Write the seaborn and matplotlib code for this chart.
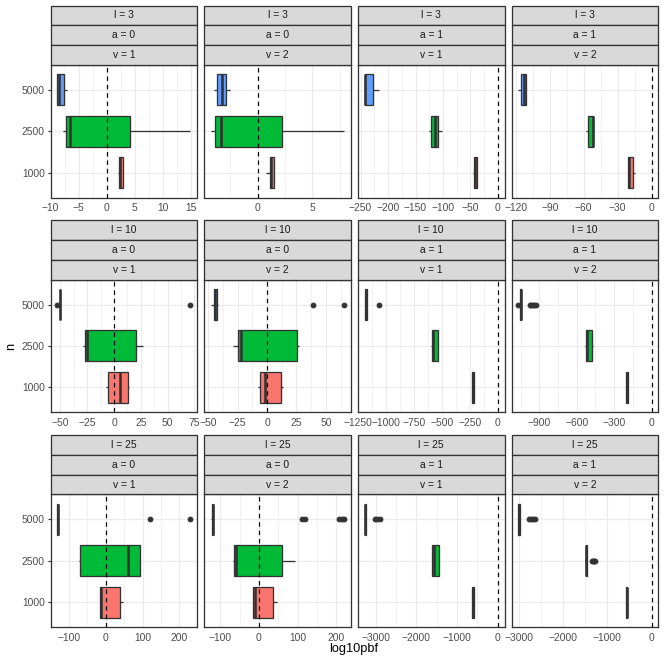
import numpy as np
import pandas as pd
import matplotlib
matplotlib.use("Agg")
import matplotlib.pyplot as plt
from matplotlib.patches import Rectangle
import seaborn as sns

# ---------------- data (log10pbf samples per facet and n) ----------------
n_order = ["5000", "2500", "1000"]
n_colors = {"1000": "#F8766D", "2500": "#00BA38", "5000": "#619CFF"}

l_levels = [3, 10, 25]
a_levels = [0, 0, 1, 1]
v_levels = [1, 2, 1, 2]

# l = 3
l3_a0_v1 = {
    "1000": [2.0, 2.15, 2.25, 2.35, 2.45, 2.65, 2.85, 2.85, 2.85],
    "2500": [-7.75, -7.45, -7.2, -6.9, -6.6, -1.5, 4.1, 9.0, 14.9],
    "5000": [-8.8, -8.78, -8.76, -8.6, -8.45, -8.0, -7.63, -7.3, -7.0],
}
l3_a0_v2 = {
    "1000": [0.73, 0.95, 1.09, 1.15, 1.2, 1.35, 1.52, 1.52, 1.52],
    "2500": [-4.27, -4.05, -3.88, -3.6, -3.39, -0.5, 2.24, 5.0, 7.9],
    "5000": [-3.94, -3.8, -3.67, -3.45, -3.27, -3.1, -2.9, -2.7, -2.55],
}
l3_a1_v1 = {
    "1000": [-46, -45, -44, -42.5, -41, -39.5, -38, -38, -38],
    "2500": [-125.6, -123.5, -121.4, -117.5, -114, -111, -108.2, -105, -102],
    "5000": [-242.8, -242.8, -242.8, -242, -241.5, -235, -227.8, -222, -217],
}
l3_a1_v2 = {
    "1000": [-20.4, -20.4, -20.4, -20.1, -19.8, -18.3, -16.8, -15.6, -14.4],
    "2500": [-57.8, -56.8, -55.8, -54.2, -52.0, -51.8, -51.6, -51.6, -51.6],
    "5000": [-117.9, -116.5, -115.3, -113.8, -112.5, -111.8, -111.2, -111.2, -111.2],
}
# l = 10
l10_a0_v1 = {
    "1000": [-7.1, -6.3, -5.6, 0.0, 5.6, 9.0, 12.7, 13.5, 14.3],
    "2500": [-28.8, -28.0, -27.3, -26.4, -25.4, -3.0, 20.5, 24.0, 27.0],
    "5000": [-53.1, -50.9, -50.9, -50.9, -50.7, -50.6, -50.5, -50.4, -50.3,
             -50.1, -50.1, -50.1, 71.3],
}
l10_a0_v2 = {
    "1000": [-7.6, -6.5, -5.6, -3.8, -2.0, 5.0, 11.9, 12.8, 13.6],
    "2500": [-29.1, -27.0, -24.9, -23.5, -22.0, 2.0, 25.4, 26.1, 26.8],
    "5000": [-47.7, -46.5, -45.8, -45.2, -44.8, -44.4, -44.0, -43.6, -43.2,
             -42.9, -41.8, 39.3, 65.5],
}
l10_a1_v1 = {
    "1000": [-232, -232, -232, -227, -222, -216, -211, -211, -211],
    "2500": [-601, -597, -592, -585, -579, -560, -539, -537, -536],
    "5000": [-1192, -1190, -1189, -1187.5, -1184, -1181, -1178, -1175, -1171,
             -1166.7, -1166.7, -1166.7, -1059.5],
}
l10_a1_v2 = {
    "1000": [-208, -208, -208, -204, -200, -195, -189, -189, -189],
    "2500": [-537, -531, -526, -520, -514, -498, -481, -476, -470],
    "5000": [-1068, -1055, -1054, -1053, -1052.5, -1052, -1050, -1049, -1048,
             -1047.5, -1047, -1046.5, -1046, -1045, -1044, -1043,
             -975, -962, -950, -938, -927],
}
# l = 25
l25_a0_v1 = {
    "1000": [-16.3, -16.3, -16.3, -14.5, -12.7, 12.0, 38.1, 42.0, 46.2],
    "2500": [-72.5, -70.5, -68.9, -5.0, 59.8, 78.0, 94.3, 94.3, 94.3],
    "5000": [-131.5, -131.5, -131.5, -131.5, -131.0, -130.5, -130.0, -129.5,
             -129.0, -128.5, -128.5, 121.5, 230.0],
}
l25_a0_v2 = {
    "1000": [-16.5, -15.5, -14.7, -13.0, -11.3, 12.0, 36.4, 41.0, 45.9],
    "2500": [-68.4, -67.0, -65.8, -63.5, -60.6, 0.0, 58.9, 75.0, 91.8],
    "5000": [-124.3, -123.8, -123.3, -122.8, -122.3, -121.6, -121.0,
             -120.8, -120.6, -120.3, -120.0, -119.8, -119.5,
             -119.3, -119.1, -118.9, -118.7, -118.6, -118.5, -115.2,
             110.0, 118.0, 208.0, 214.0, 220.0],
}
l25_a1_v1 = {
    "1000": [-628, -628, -628, -619, -610, -599, -588, -588, -588],
    "2500": [-1613, -1613, -1613, -1590, -1560, -1500, -1450, -1450, -1450],
    "5000": [-3272, -3272, -3272, -3272, -3268, -3264, -3260, -3256, -3252,
             -3248, -3020, -2960, -2900],
}
l25_a1_v2 = {
    "1000": [-575, -575, -575, -568, -560, -552, -545, -545, -545],
    "2500": [-1485, -1485, -1485, -1485, -1485, -1482, -1480, -1477, -1475,
             -1473, -1470, -1467, -1465, -1360, -1335, -1310, -1285],
    "5000": [-3020, -3020, -3020, -3020, -3020, -3016, -3012, -3008, -3005,
             -3001, -2997, -2993, -2990, -2770, -2730, -2690, -2650],
}

panels = [
    [l3_a0_v1, l3_a0_v2, l3_a1_v1, l3_a1_v2],
    [l10_a0_v1, l10_a0_v2, l10_a1_v1, l10_a1_v2],
    [l25_a0_v1, l25_a0_v2, l25_a1_v1, l25_a1_v2],
]

x_breaks = [
    [[-10, -5, 0, 5, 10, 15], [0, 5], [-250, -200, -150, -100, -50, 0], [-120, -90, -60, -30, 0]],
    [[-50, -25, 0, 25, 50, 75], [-50, -25, 0, 25, 50], [-1250, -1000, -750, -500, -250, 0], [-900, -600, -300, 0]],
    [[-100, 0, 100, 200], [-100, 0, 100, 200], [-3000, -2000, -1000, 0], [-3000, -2000, -1000, 0]],
]

# ---------------- styling ----------------
sns.set_theme(style="white")
plt.rcParams["font.family"] = ["Liberation Sans", "DejaVu Sans"]
plt.rcParams["axes.unicode_minus"] = True

W = H = 664
DPI = 72
LW = 1.3
TICK_FS = 10.2
TITLE_FS = 12.8
fig = plt.figure(figsize=(W / DPI, H / DPI), dpi=DPI)
fig.patch.set_facecolor("white")

col_x = [50.5 + i * 153.7 for i in range(4)]
pw = 146.6
row_top = [5.5 + r * 214.75 for r in range(3)]
strip_h = 19.8
ph = 132.6


def frac_rect(x, y_top, w, h):
    return [x / W, 1 - (y_top + h) / H, w / W, h / H]


def fmt(v):
    s = f"{v:g}"
    return s.replace("-", "\u2212")


for r in range(3):
    for c in range(4):
        data = panels[r][c]
        rows = []
        for n in n_order:
            for val in data[n]:
                rows.append((n, val))
        df = pd.DataFrame(rows, columns=["n", "log10pbf"])

        ax = fig.add_axes(frac_rect(col_x[c], row_top[r] + 3 * strip_h, pw, ph))
        ax.set_facecolor("white")

        sns.boxplot(
            data=df, x="log10pbf", y="n", hue="n", order=n_order, hue_order=n_order,
            palette=n_colors, dodge=False, legend=False, orient="h", ax=ax,
            width=0.75, saturation=1, linewidth=LW, linecolor="#333333",
            whis=1.5, showcaps=False, fliersize=4.8,
            flierprops=dict(marker="o", markerfacecolor="#333333",
                            markeredgecolor="#333333"),
            medianprops=dict(linewidth=2.6, color="#333333"),
        )
        ax.axvline(0, color="black", linewidth=1.2, linestyle=(0, (3.7, 3.3)), zorder=6)

        vals = df["log10pbf"].to_numpy()
        lo = min(vals.min(), 0.0)
        hi = max(vals.max(), 0.0)
        pad = 0.05 * (hi - lo)
        ax.set_xlim(lo - pad, hi + pad)
        ax.set_ylim(2.6, -0.6)

        major = x_breaks[r][c]
        step = major[1] - major[0]
        minors = [m - step / 2 for m in major] + [major[-1] + step / 2]
        minors = [m for m in minors if lo - pad <= m <= hi + pad]
        ax.set_xticks(major)
        ax.set_xticklabels([fmt(v) for v in major])
        ax.set_xticks(minors, minor=True)
        ax.set_yticks([0, 1, 2])
        ax.set_yticklabels(n_order)

        ax.set_axisbelow(True)
        ax.grid(which="major", axis="both", color="#EBEBEB", linewidth=1.2)
        ax.grid(which="minor", axis="x", color="#EBEBEB", linewidth=0.65)

        ax.tick_params(axis="x", which="major", length=3.2, width=1.2, color="#333333",
                       labelsize=TICK_FS, labelcolor="#4D4D4D", pad=2.4)
        ax.tick_params(axis="x", which="minor", length=0)
        if c == 0:
            ax.tick_params(axis="y", which="major", length=3.2, width=1.2, color="#333333",
                           labelsize=TICK_FS, labelcolor="#4D4D4D", pad=2.4, left=True)
        else:
            ax.tick_params(axis="y", left=False, labelleft=False)
        ax.set_xlabel("")
        ax.set_ylabel("")
        for sp in ax.spines.values():
            sp.set_color("#333333")
            sp.set_linewidth(1.3)
            sp.set_visible(True)

        labels = [f"l = {l_levels[r]}", f"a = {a_levels[c]}", f"v = {v_levels[c]}"]
        for k, lab in enumerate(labels):
            x0, y0, w0, h0 = frac_rect(col_x[c], row_top[r] + k * strip_h, pw, strip_h)
            fig.add_artist(Rectangle((x0, y0), w0, h0, transform=fig.transFigure,
                                     facecolor="#D9D9D9", edgecolor="#333333",
                                     linewidth=1.3))
            fig.text(x0 + w0 / 2, y0 + h0 / 2, lab, ha="center", va="center",
                     fontsize=TICK_FS, color="#1A1A1A")

fig.text(354 / W, 1 - 649 / H, "log10pbf", ha="center", va="center", fontsize=TITLE_FS,
         color="black")
fig.text(11 / W, 1 - 346 / H, "n", ha="center", va="center", rotation=90,
         fontsize=TITLE_FS, color="black")

fig.savefig("out.png", dpi=DPI, facecolor="white")
